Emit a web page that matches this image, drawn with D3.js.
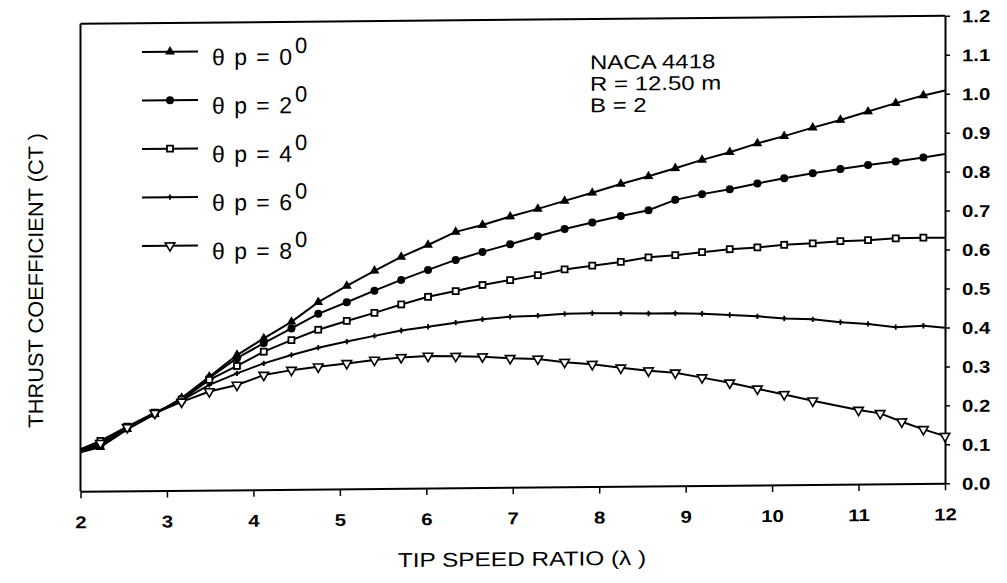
<!DOCTYPE html>
<html>
<head>
<meta charset="utf-8">
<script src="https://cdn.jsdelivr.net/npm/d3@7"></script>
<style>
  body { margin: 0; background: #fff; }
  text { font-family: "Liberation Sans", Arial, sans-serif; fill: #000; }
</style>
</head>
<body>
<div id="chart"></div>
<script>
// tip speed ratios of the plotted points (pitch 0, 2, 4, 6 deg)
var tsr = [2, 2.23, 2.54, 2.86, 3.17, 3.49, 3.81, 4.12, 4.44, 4.75, 5.08, 5.40, 5.71,
  6.02, 6.34, 6.65, 6.97, 7.29, 7.60, 7.92, 8.25, 8.57, 8.88, 9.19, 9.51, 9.83,
  10.14, 10.47, 10.79, 11.11, 11.43, 11.75, 12];
// pitch 8 deg uses a finer step near the end
var tsr8 = [2, 2.23, 2.54, 2.86, 3.17, 3.49, 3.81, 4.12, 4.44, 4.75, 5.08, 5.40, 5.71,
  6.02, 6.34, 6.65, 6.97, 7.29, 7.60, 7.92, 8.25, 8.57, 8.88, 9.19, 9.51, 9.83,
  10.14, 10.47, 11.00, 11.25, 11.50, 11.75, 12];

var ct0 = [0.100, 0.113, 0.158, 0.196, 0.237, 0.291, 0.346, 0.388, 0.430, 0.480, 0.521,
  0.559, 0.594, 0.624, 0.657, 0.674, 0.695, 0.714, 0.734, 0.754, 0.776, 0.795, 0.815,
  0.836, 0.855, 0.877, 0.895, 0.916, 0.935, 0.956, 0.977, 0.996, 1.008];
var ct2 = [0.102, 0.116, 0.160, 0.197, 0.235, 0.288, 0.338, 0.376, 0.413, 0.450, 0.479,
  0.508, 0.535, 0.560, 0.585, 0.605, 0.624, 0.644, 0.662, 0.678, 0.694, 0.708, 0.734,
  0.748, 0.760, 0.774, 0.787, 0.799, 0.809, 0.819, 0.827, 0.837, 0.845];
var ct4 = [0.108, 0.129, 0.165, 0.200, 0.233, 0.283, 0.318, 0.354, 0.383, 0.409, 0.431,
  0.451, 0.472, 0.491, 0.505, 0.520, 0.532, 0.544, 0.558, 0.567, 0.576, 0.587, 0.592,
  0.599, 0.606, 0.610, 0.616, 0.619, 0.624, 0.626, 0.630, 0.631, 0.630];
var ct6 = [0.104, 0.118, 0.162, 0.199, 0.231, 0.270, 0.299, 0.324, 0.345, 0.363, 0.378,
  0.392, 0.405, 0.414, 0.424, 0.432, 0.438, 0.440, 0.444, 0.445, 0.444, 0.443, 0.443,
  0.441, 0.437, 0.433, 0.427, 0.424, 0.416, 0.411, 0.402, 0.405, 0.399];
var ct8 = [0.106, 0.123, 0.163, 0.199, 0.227, 0.253, 0.269, 0.294, 0.306, 0.314, 0.322,
  0.330, 0.336, 0.339, 0.338, 0.336, 0.331, 0.329, 0.320, 0.314, 0.304, 0.296, 0.290,
  0.277, 0.263, 0.247, 0.232, 0.215, 0.190, 0.181, 0.159, 0.139, 0.121];

var pitchAngles = ["0", "2", "4", "6", "8"];
var xTicks = [2, 3, 4, 5, 6, 7, 8, 9, 10, 11, 12];
var yTicks = [0, 0.1, 0.2, 0.3, 0.4, 0.5, 0.6, 0.7, 0.8, 0.9, 1.0, 1.1, 1.2];
var notes = ["NACA 4418", "R = 12.50 m", "B = 2"];

var series = [
  { x: tsr, y: ct0, sym: "triUp", endMark: false },
  { x: tsr, y: ct2, sym: "circle", endMark: false },
  { x: tsr, y: ct4, sym: "square", endMark: false },
  { x: tsr, y: ct6, sym: "cross", endMark: false },
  { x: tsr8, y: ct8, sym: "triDown", endMark: true }
];

function drawChart() {
  var svgWidth = 1007, svgHeight = 583;
  var margin = { left: 80.5, right: 945, top: 15.8, bottom: 483.3 };
  var stretch = 1.2; // scanned lettering is wider than Arial

  var svg = d3.select("#chart").append("svg")
    .attr("width", svgWidth)
    .attr("height", svgHeight);

  // the scan is slightly skewed, left side sits lower
  var chart = svg.append("g")
    .attr("transform", `translate(${margin.right},${margin.bottom}) skewY(-0.53) translate(${-margin.right},${-margin.bottom})`);

  var x = d3.scaleLinear().domain([2, 12]).range([margin.left, margin.right]);
  var y = d3.scaleLinear().domain([0, 1.2]).range([margin.bottom, margin.top]);

  // frame
  chart.append("line")
    .attr("x1", margin.left).attr("x2", margin.right)
    .attr("y1", margin.top).attr("y2", margin.top)
    .attr("stroke", "#000").attr("stroke-width", 2);
  chart.append("line")
    .attr("x1", margin.left).attr("x2", margin.left)
    .attr("y1", margin.top).attr("y2", margin.bottom)
    .attr("stroke", "#000").attr("stroke-width", 2);

  // bottom axis
  var bottomAxis = d3.axisBottom(x).tickValues(xTicks).tickSize(7).tickSizeOuter(0)
    .tickFormat(d3.format("d"));
  var gx = chart.append("g")
    .attr("transform", `translate(0,${margin.bottom})`)
    .call(bottomAxis);
  gx.select(".domain").attr("stroke-width", 2);
  gx.selectAll(".tick line").attr("stroke-width", 1.5);
  gx.selectAll("text")
    .attr("y", 37).attr("dy", 0)
    .attr("font-size", 17)
    .attr("font-weight", "bold")
    .attr("font-family", "Liberation Sans, Arial, sans-serif")
    .attr("transform", `scale(${stretch},1)`);

  // right axis
  var rightAxis = d3.axisRight(y).tickValues(yTicks).tickSize(5).tickSizeOuter(0)
    .tickFormat(d3.format(".1f"));
  var gy = chart.append("g")
    .attr("transform", `translate(${margin.right},0)`)
    .call(rightAxis);
  gy.select(".domain").attr("stroke-width", 2);
  gy.selectAll(".tick line").attr("stroke-width", 1.5);
  gy.selectAll("text")
    .attr("x", 17 / stretch).attr("dy", "0.36em")
    .attr("font-size", 17)
    .attr("font-weight", "bold")
    .attr("font-family", "Liberation Sans, Arial, sans-serif")
    .attr("transform", `scale(${stretch},1)`);

  // symbols
  function drawSymbol(g, kind) {
    if (kind == "triUp") {
      g.append("path").attr("d", d3.symbol(d3.symbolTriangle, 42)())
        .attr("fill", "#000");
    } else if (kind == "circle") {
      g.append("circle").attr("r", 4).attr("fill", "#000");
    } else if (kind == "square") {
      g.append("rect").attr("x", -3).attr("y", -3).attr("width", 6).attr("height", 6)
        .attr("fill", "#fff").attr("stroke", "#000").attr("stroke-width", 1.8);
    } else if (kind == "cross") {
      g.append("path").attr("d", d3.symbol(d3.symbolCross, 16)())
        .attr("fill", "#000");
    } else {
      g.append("path").attr("d", d3.symbol(d3.symbolTriangle, 40)())
        .attr("transform", "rotate(180)")
        .attr("fill", "#fff").attr("stroke", "#000").attr("stroke-width", 1.6);
    }
  }

  var line = d3.line()
    .x(d => x(d[0]))
    .y(d => y(d[1]));

  series.forEach(function(s) {
    var pts = s.x.map((v, i) => [v, s.y[i]]);
    chart.append("path")
      .datum(pts)
      .attr("d", line)
      .attr("fill", "none")
      .attr("stroke", "#000")
      .attr("stroke-width", 2);
    var marked = pts.filter((p, i) => i > 0 && (i < pts.length - 1 || s.endMark));
    chart.selectAll(null)
      .data(marked)
      .enter()
      .append("g")
      .attr("transform", d => `translate(${x(d[0])},${y(d[1])})`)
      .each(function() { drawSymbol(d3.select(this), s.sym); });
  });

  // legend
  var legend = chart.append("g");
  series.forEach(function(s, i) {
    var ly = 44.5 + 48.5 * i;
    legend.append("line")
      .attr("x1", 142).attr("x2", 198).attr("y1", ly).attr("y2", ly)
      .attr("stroke", "#000").attr("stroke-width", 2);
    drawSymbol(legend.append("g").attr("transform", `translate(170,${ly})`), s.sym);
    legend.append("text")
      .attr("x", 212).attr("y", ly + 14)
      .attr("font-size", 23)
      .attr("word-spacing", 3)
      .text("\u03b8 p = " + pitchAngles[i]);
    legend.append("text")
      .attr("x", 295).attr("y", ly + 2.5)
      .attr("font-size", 22)
      .text("0");
  });

  // blade notes
  notes.forEach(function(t, i) {
    chart.append("text")
      .attr("transform", `translate(590,${66 + 21.5 * i}) scale(1.2,1)`)
      .attr("font-size", 20)
      .text(t);
  });

  // axis titles
  chart.append("text")
    .attr("transform", "translate(43,272) rotate(-90) scale(1.04,1)")
    .attr("text-anchor", "middle")
    .attr("font-size", 21)
    .text("THRUST COEFFICIENT (CT )");

  chart.append("text")
    .attr("transform", `translate(522,562) scale(1.22,1)`)
    .attr("text-anchor", "middle")
    .attr("font-size", 20)
    .text("TIP SPEED RATIO (\u03bb )");
}

drawChart();
</script>
</body>
</html>
